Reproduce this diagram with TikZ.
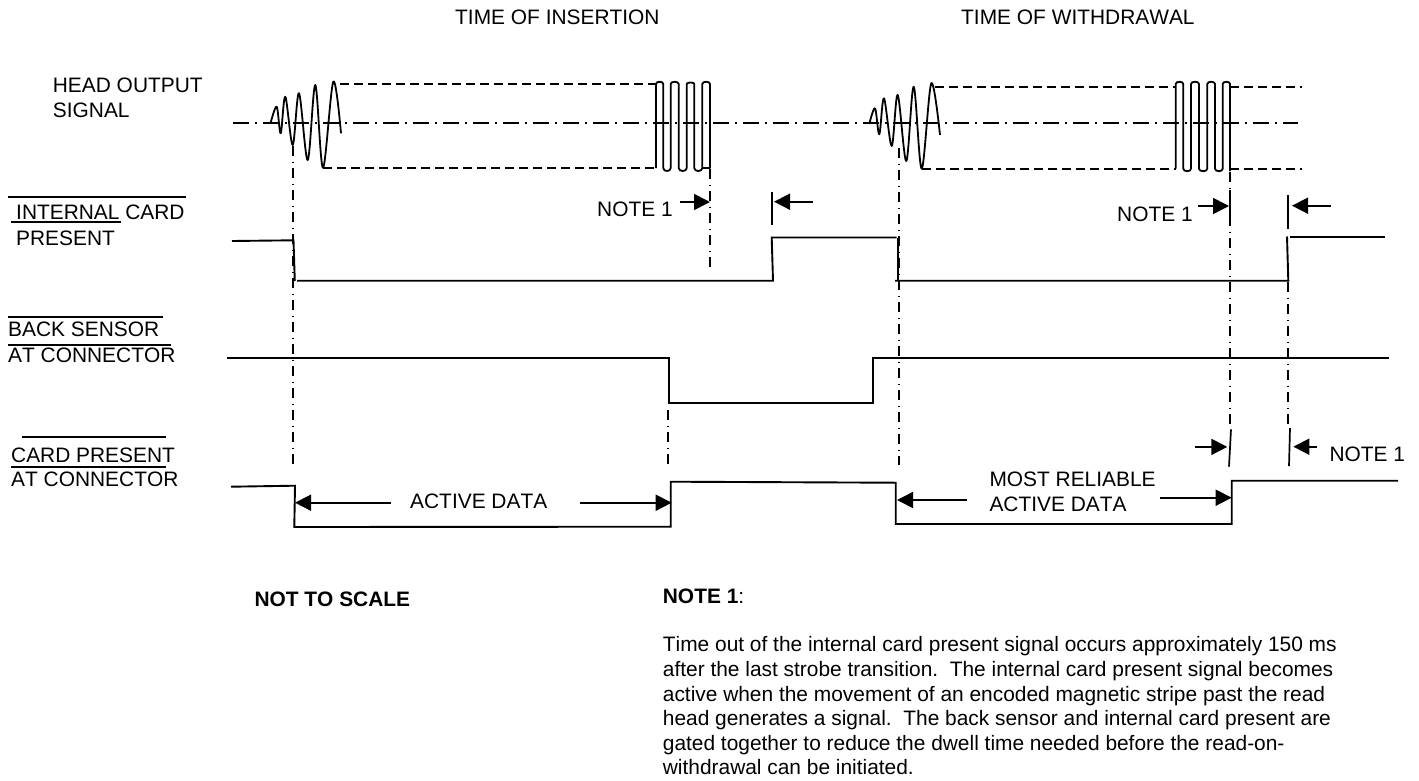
\documentclass[tikz,border=0pt]{standalone}
\usepackage{fontspec}
\setmainfont{Liberation Sans}[Kerning=Off]
\usetikzlibrary{arrows.meta}
\tikzset{
  txt/.style={anchor=base west,inner sep=0pt,font=\fontsize{20.9}{25}\selectfont},
  txtm/.style={anchor=north west,inner sep=0pt,align=left,font=\fontsize{20.9}{25}\selectfont},
  sig/.style={line width=1.9pt,line cap=butt,line join=miter},
  wave/.style={line width=1.8pt,line join=round},
  limit/.style={line width=1.6pt,dash pattern=on 8.5pt off 5.5pt},
  center line/.style={line width=1.8pt,dash pattern=on 16pt off 5.5pt on 2pt off 6.5pt},
  drop line/.style={line width=1.7pt,dash pattern=on 10pt off 5.5pt on 1.5pt off 5pt},
  bar/.style={line width=1.7pt},
  over/.style={line width=1.7pt},
  arr/.style={line width=1.7pt,-{Triangle[length=16pt,width=16pt]}},
}
\begin{document}
\begin{tikzpicture}[x=1pt,y=-1pt]
\useasboundingbox (0,0) rectangle (1419,780);
% headers
\node[txt] (hinsert) at (455,24) {TIME OF INSERTION};
\node[txt] (hwithdraw) at (961,24) {TIME OF WITHDRAWAL};
% left labels
\node[txtm] (lhead) at (52.7,77.7) {HEAD OUTPUT\\SIGNAL};
\node[txt] (lint1) at (16,219.3) {INTERNAL CARD};
\node[txt] (lint2) at (16,245) {PRESENT};
\node[txt] (lback1) at (8,336.7) {BACK SENSOR};
\node[txt] (lback2) at (8,362.3) {AT CONNECTOR};
\node[txt] (lcard1) at (11,462.7) {CARD PRESENT};
\node[txt] (lcard2) at (11,486.7) {AT CONNECTOR};
\draw[over] (8,196.7) -- (186,196.7);
\draw[over] (10.7,222.3) -- (121,222.3);
\draw[over] (7.5,316.7) -- (163,316.7);
\draw[over] (7.5,345) -- (171,345);
\draw[over] (22,437.3) -- (166,437.3);
\draw[over] (11,466.7) -- (166,466.7);
% centre line
\draw[center line] (233,122.7) -- (1298,122.7);
% envelope limits
\draw[limit] (340,83.7) -- (656,83.7);
\draw[limit] (323,167.7) -- (656,167.7);
\draw[limit] (935,87) -- (1176,87);
\draw[limit] (922,168.7) -- (1176,168.7);
\draw[limit] (1230,87) -- (1302,87);
\draw[limit] (1230,168.7) -- (1302,168.7);
% waveforms
\draw[wave] plot[smooth,tension=.55] coordinates {(270.7,122.7) (276.7,106.7) (280.7,133.3) (285.3,96.7) (292.7,145) (299,93.3) (307.7,160) (315.3,85) (323,167.7) (333.3,81.7) (341,133.3)};
\draw[wave] plot[smooth,tension=.55] coordinates {(869.3,124) (875,108.3) (879.3,134.3) (884,98.3) (891.7,146) (897.7,95) (906.3,161) (913.7,86.7) (921.7,168.7) (931.3,83.3) (940,135)};
% strobe bursts
\draw[wave] (656,168) -- (656,84) .. controls (656,81) and (663.3,81) .. (663.3,84)
  -- (663.3,168) .. controls (663.3,172) and (670.7,172) .. (670.7,168)
  -- (670.7,84) .. controls (670.7,81) and (678.7,81) .. (678.7,84)
  -- (678.7,168) .. controls (678.7,172) and (686.7,172) .. (686.7,168)
  -- (686.7,84) .. controls (686.7,82) and (694.3,82) .. (694.3,84)
  -- (694.3,168) .. controls (694.3,172) and (702.3,172) .. (702.3,168)
  -- (702.3,84) .. controls (702.3,81) and (710,81) .. (710,84)
  -- (710,168) -- (702.3,168);
\draw[wave] (1175.7,168.7) -- (1175.7,84) .. controls (1175.7,81) and (1183.3,81) .. (1183.3,84)
  -- (1183.3,168.7) .. controls (1183.3,172) and (1191,172) .. (1191,168.7)
  -- (1191,84) .. controls (1191,81) and (1199,81) .. (1199,84)
  -- (1199,168.7) .. controls (1199,172) and (1207.3,172) .. (1207.3,168.7)
  -- (1207.3,84) .. controls (1207.3,81) and (1215,81) .. (1215,84)
  -- (1215,168.7) .. controls (1215,172) and (1222.7,172) .. (1222.7,168.7)
  -- (1222.7,84) .. controls (1222.7,81) and (1230,81) .. (1230,84)
  -- (1230,171);
% drop lines
\draw[drop line] (293.3,146) -- (293.3,465);
\draw[drop line] (710,169) -- (710,269);
\draw[drop line] (667.7,410) -- (667.7,468);
\draw[drop line] (899.3,148) -- (899.3,465);
\draw[drop line] (1230,172) -- (1230,426);
\draw[drop line] (1288.3,282) -- (1288.3,425);
% internal card present
\draw[sig] (232,241) -- (293.5,240.3) -- (294.8,281);
\draw[sig] (297,280.7) -- (773,280.7) -- (771.7,237.5) -- (896.7,237.5);
\draw[sig] (898.3,238) -- (898.3,280.5);
\draw[sig] (895,280.7) -- (1288.3,280.7) -- (1287,236.5);
\draw[sig] (1290,236.7) -- (1385,236.7);
% back sensor
\draw[sig] (227,358.3) -- (669,358.3) -- (669,403.3) -- (873.3,403.3) -- (873.3,358.3) -- (1389,358.3);
% card present
\draw[sig] (231,486.7) -- (295,485.7) -- (294.3,527) -- (670.7,526.7) -- (670.7,481.7) -- (895.7,482.7) -- (895.7,524) -- (1231.7,524) -- (1231.7,480.7) -- (1398,480.7);
% time markers
\draw[bar] (772.3,191.7) -- (772.3,225);
\draw[bar] (1230,190) -- (1230,223);
\draw[bar] (1288.3,195) -- (1288.3,229);
\draw[bar] (1231,429.3) -- (1229,466.7);
\draw[bar] (1290,428) -- (1289,466);
% arrows
\coordinate (a1) at (680,202); \coordinate (a1t) at (710,202);
\draw[arr] (a1) -- (a1t);
\coordinate (a2) at (812.7,201.7); \coordinate (a2t) at (774,201.7);
\draw[arr] (a2) -- (a2t);
\coordinate (a3) at (1198,206); \coordinate (a3t) at (1229,206);
\draw[arr] (a3) -- (a3t);
\coordinate (a4) at (1331,205.7); \coordinate (a4t) at (1292,205.7);
\draw[arr] (a4) -- (a4t);
\coordinate (a5) at (1195,446.9); \coordinate (a5t) at (1227.3,446.9);
\draw[arr] (a5) -- (a5t);
\coordinate (a6) at (1316.7,446.7); \coordinate (a6t) at (1293.3,446.7);
\draw[arr] (a6) -- (a6t);
\coordinate (a7) at (390.7,502.7); \coordinate (a7t) at (295,502.7);
\draw[arr] (a7) -- (a7t);
\coordinate (a8) at (580,502.7); \coordinate (a8t) at (671.7,502.7);
\draw[arr] (a8) -- (a8t);
\coordinate (a9) at (966.7,500); \coordinate (a9t) at (897,500);
\draw[arr] (a9) -- (a9t);
\coordinate (a10) at (1160,497.7); \coordinate (a10t) at (1231.7,497.7);
\draw[arr] (a10) -- (a10t);
% inline labels
\node[txt] (n1) at (597,216.7) {NOTE 1};
\node[txt] (n2) at (1117,221) {NOTE 1};
\node[txt] (n3) at (1329.3,461) {NOTE 1};
\node[txt] (active) at (410,508.3) {ACTIVE DATA};
\node[txtm] (most) at (989.3,471.7) {MOST RELIABLE\\ACTIVE DATA};
% notes
\node[txt,font=\fontsize{20.9}{25}\bfseries] (scale) at (254.3,606.7) {NOT TO SCALE};
\node[txt] (notehead) at (662.7,603) {\textbf{NOTE 1}:};
\node[txtm,font=\fontsize{20.9}{24.6}\selectfont] (para) at (662.7,636.5) {Time out of the internal card present signal occurs approximately 150 ms\\
after the last strobe transition.\ \ The internal card present signal becomes\\
active when the movement of an encoded magnetic stripe past the read\\
head generates a signal.\ \ The back sensor and internal card present are\\
gated together to reduce the dwell time needed before the read-on-\\
withdrawal can be initiated.};
\end{tikzpicture}
\end{document}
